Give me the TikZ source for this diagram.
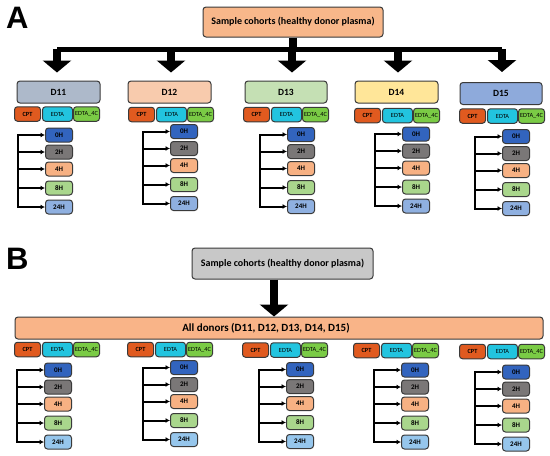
\documentclass[tikz,border=0pt]{standalone}
\usepackage{fontspec}
\setmainfont{Carlito}
\newfontfamily\panelfont{Liberation Sans}
\usetikzlibrary{arrows.meta}
\definecolor{cptc}{HTML}{E05A1F}
\definecolor{edtac}{HTML}{22C4DF}
\definecolor{fourc}{HTML}{7ACB45}
\definecolor{hzero}{HTML}{3264BE}
\definecolor{htwo}{HTML}{7A7777}
\definecolor{hfour}{HTML}{F7B183}
\definecolor{height}{HTML}{A9D68C}
\definecolor{htwentyA}{HTML}{8FB0E0}
\definecolor{htwentyB}{HTML}{96C6EC}
\definecolor{dA}{HTML}{ADB9CA}
\definecolor{dB}{HTML}{F8CBAD}
\definecolor{dC}{HTML}{C5E0B4}
\definecolor{dD}{HTML}{FFE699}
\definecolor{dE}{HTML}{8EAADB}
\definecolor{toporange}{HTML}{F8B78A}
\definecolor{topgray}{HTML}{C8C8C8}
\definecolor{bigorange}{HTML}{F9B488}
\definecolor{edgec}{HTML}{3A3A3A}
\tikzset{
  rbox/.style={draw=edgec,line width=1pt,rounded corners=3pt,inner sep=0pt,text=black},
  subbox/.style={rbox,minimum height=14.5pt,font=\fontsize{6.3}{7}\selectfont,anchor=west},
  tbox/.style={rbox,minimum width=27pt,minimum height=14pt,font=\fontsize{7}{8}\selectfont\bfseries,anchor=west},
  dbox/.style={rbox,minimum width=83pt,minimum height=22pt,font=\fontsize{9.5}{11}\selectfont\bfseries},
  brk/.style={line width=2pt,line cap=rect},
  brarrow/.style={line width=2pt,-{Latex[length=4.5pt,width=5pt]}},
  barline/.style={line width=5pt},
  fatarrow/.style={line width=8pt,-{Triangle[width=28pt,length=12pt]}},
}
% #1 prefix, #2 CPT left x, #3 sub row y, #4 bracket x, #5 0H y, #6 24H colour
\newcommand\tgroup[6]{%
  \node[subbox,fill=cptc,minimum width=26pt,font=\fontsize{6.3}{7}\selectfont\bfseries] (#1c) at (#2,#3) {CPT};
  \node[subbox,fill=edtac,minimum width=30pt] (#1e) at (#2+28,#3) {EDTA};
  \node[subbox,fill=fourc,minimum width=26pt] (#1f) at (#2+59,#3) {EDTA\_4C};
  \node[tbox,fill=hzero] (#1t0) at (#4+27,#5) {0H};
  \node[tbox,fill=htwo] (#1t1) at (#4+27,#5+17) {2H};
  \node[tbox,fill=hfour] (#1t2) at (#4+27,#5+34) {4H};
  \node[tbox,fill=height] (#1t3) at (#4+27,#5+53) {8H};
  \node[tbox,fill=#6] (#1t4) at (#4+27,#5+72) {24H};
  \coordinate (#1b) at (#4,#5);
  \draw[brk] (#1t0.west -| #1b) -- (#1t4.west -| #1b);
  \foreach \i in {0,...,4} {\draw[brarrow] (#1t\i.west -| #1b) -- (#1t\i.west);}
}
\begin{document}
\begin{tikzpicture}[x=1pt,y=-1pt]
\useasboundingbox (0,0) rectangle (550,456);
% ---------- Panel A ----------
\node[anchor=north west,inner sep=0pt,font=\panelfont\fontsize{31}{31}\selectfont\bfseries] (labA) at (6,7) {A};
\node[rbox,fill=toporange,minimum width=180pt,minimum height=30pt,font=\fontsize{10}{12}\selectfont\bfseries] (topA) at (293,22) {Sample cohorts (healthy donor plasma)};
\node[dbox,fill=dA] (d11) at (58.5,92) {D11};
\node[dbox,fill=dB] (d12) at (169.5,92) {D12};
\node[dbox,fill=dC,minimum width=82pt] (d13) at (286,92) {D13};
\node[dbox,fill=dD] (d14) at (396.5,92) {D14};
\node[dbox,fill=dE,minimum width=82pt] (d15) at (501,93.5) {D15};
\coordinate (barA) at (0,49);
\draw[line width=8pt] (topA.south) -- (topA.south |- barA);
\draw[barline] ([xshift=-1.5pt]d11.north |- barA) -- ([xshift=1pt]d15.north |- barA);
\draw[fatarrow] ([xshift=-1.5pt]d11.north |- barA) -- ([xshift=-1.5pt,yshift=8pt]d11.north);
\draw[fatarrow] ([xshift=1.5pt]d12.north |- barA) -- ([xshift=1.5pt,yshift=8pt]d12.north);
\draw[fatarrow] ([xshift=6pt]d13.north |- barA) -- ([xshift=6pt,yshift=8pt]d13.north);
\draw[fatarrow] ([xshift=1.5pt]d14.north |- barA) -- ([xshift=1.5pt,yshift=8pt]d14.north);
\draw[fatarrow] ([xshift=1pt]d15.north |- barA) -- ([xshift=1pt,yshift=10pt]d15.north);
\tgroup{a1}{14}{114}{18}{135}{htwentyA}
\tgroup{a2}{128}{114.5}{143}{131.5}{htwentyA}
\tgroup{a3}{243}{114.5}{260}{134.5}{htwentyA}
\tgroup{a4}{354}{115.5}{375}{134}{htwentyA}
\tgroup{a5}{459}{116}{475}{136.5}{htwentyA}
% ---------- Panel B ----------
\node[anchor=north west,inner sep=0pt,font=\panelfont\fontsize{31}{31}\selectfont\bfseries] (labB) at (6,248) {B};
\node[rbox,fill=topgray,minimum width=181pt,minimum height=31pt,font=\fontsize{10}{12}\selectfont\bfseries] (topB) at (282.5,263.5) {Sample cohorts (healthy donor plasma)};
\node[rbox,fill=bigorange,minimum width=528pt,minimum height=22pt,font=\fontsize{11}{13}\selectfont\bfseries] (all) at (279,328) {All donors (D11, D12, D13, D14, D15)\hspace*{26pt}};
\draw[fatarrow] ([xshift=-8.5pt]topB.south) -- ([xshift=-5pt]all.north);
\tgroup{b1}{14}{349.5}{17}{370}{htwentyB}
\tgroup{b2}{127}{349.5}{143}{367.5}{htwentyB}
\tgroup{b3}{242}{350}{259}{369.5}{htwentyB}
\tgroup{b4}{353}{350.5}{374}{370}{htwentyB}
\tgroup{b5}{459}{351.5}{475}{372}{htwentyB}
\end{tikzpicture}
\end{document}
